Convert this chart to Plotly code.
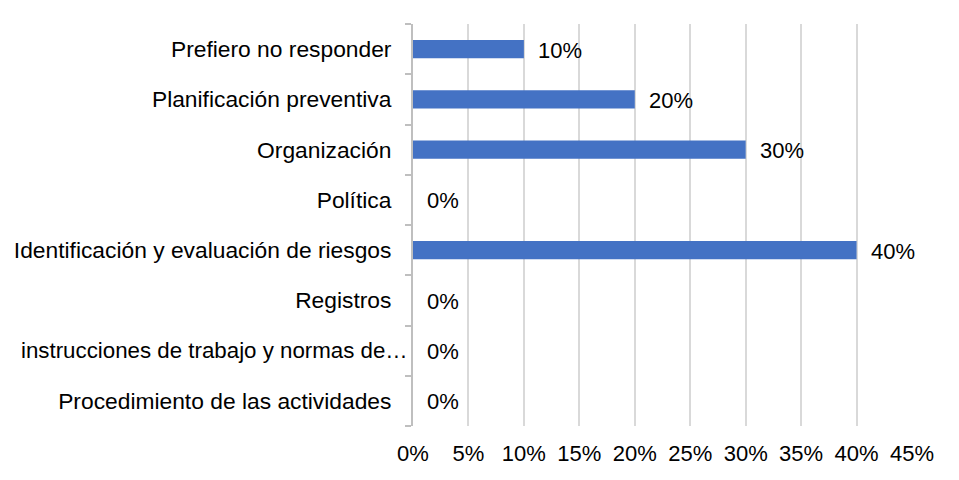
import plotly.graph_objects as go

categories = [
    "Procedimiento de las actividades",
    "instrucciones de trabajo y normas de…",
    "Registros",
    "Identificación y evaluación de riesgos",
    "Política",
    "Organización",
    "Planificación preventiva",
    "Prefiero no responder",
]
values = [0, 0, 0, 40, 0, 30, 20, 10]
x_ticks = [0, 5, 10, 15, 20, 25, 30, 35, 40, 45]
x_tick_labels = [f"{t}%" for t in x_ticks]

FONT = "Liberation Sans, Arial"
FS = 22
YFS = 22.8

# the truncated label sits closer to the axis in the reference, so it is drawn as an annotation
long_label = categories[1]
y_tick_text = ["" if c == long_label else c for c in categories]

fig = go.Figure()
fig.add_trace(go.Bar(
    y=categories, x=values, orientation="h",
    marker=dict(color="#4472C4", line=dict(width=0)),
    width=0.36,
))

for c, v in zip(categories, values):
    fig.add_annotation(x=v, y=c, text=f"{v}%", showarrow=False,
                       xanchor="left", yanchor="middle", xshift=12, yshift=-1,
                       font=dict(family=FONT, size=FS, color="#000000"))

fig.add_annotation(x=0, y=long_label, text=long_label, showarrow=False,
                   xanchor="right", yanchor="middle", xshift=-3,
                   font=dict(family=FONT, size=22.3, color="#000000"))

# page body has an 8px default margin, so the figure is sized to fit the window
fig.update_layout(
    width=951, height=472,
    margin=dict(l=405, r=47, t=16, b=54),
    plot_bgcolor="white", paper_bgcolor="white",
    font=dict(family=FONT, size=FS, color="#000000"),
    showlegend=False,
)
fig.update_xaxes(
    range=[0, 45], tickvals=x_ticks, ticktext=x_tick_labels,
    showgrid=True, gridcolor="#D9D9D9", gridwidth=2,
    zeroline=False, showline=False, ticks="",
    tickfont=dict(size=FS), ticklabelstandoff=12, automargin=False,
)
fig.update_yaxes(
    categoryorder="array", categoryarray=categories,
    tickvals=categories, ticktext=y_tick_text,
    showline=True, linecolor="#BFBFBF", linewidth=2,
    ticks="outside", tickson="boundaries", ticklen=6, tickcolor="#BFBFBF", tickwidth=2,
    showgrid=False, tickfont=dict(size=YFS), ticklabelstandoff=15, automargin=False,
)

fig.write_html("out.html")
